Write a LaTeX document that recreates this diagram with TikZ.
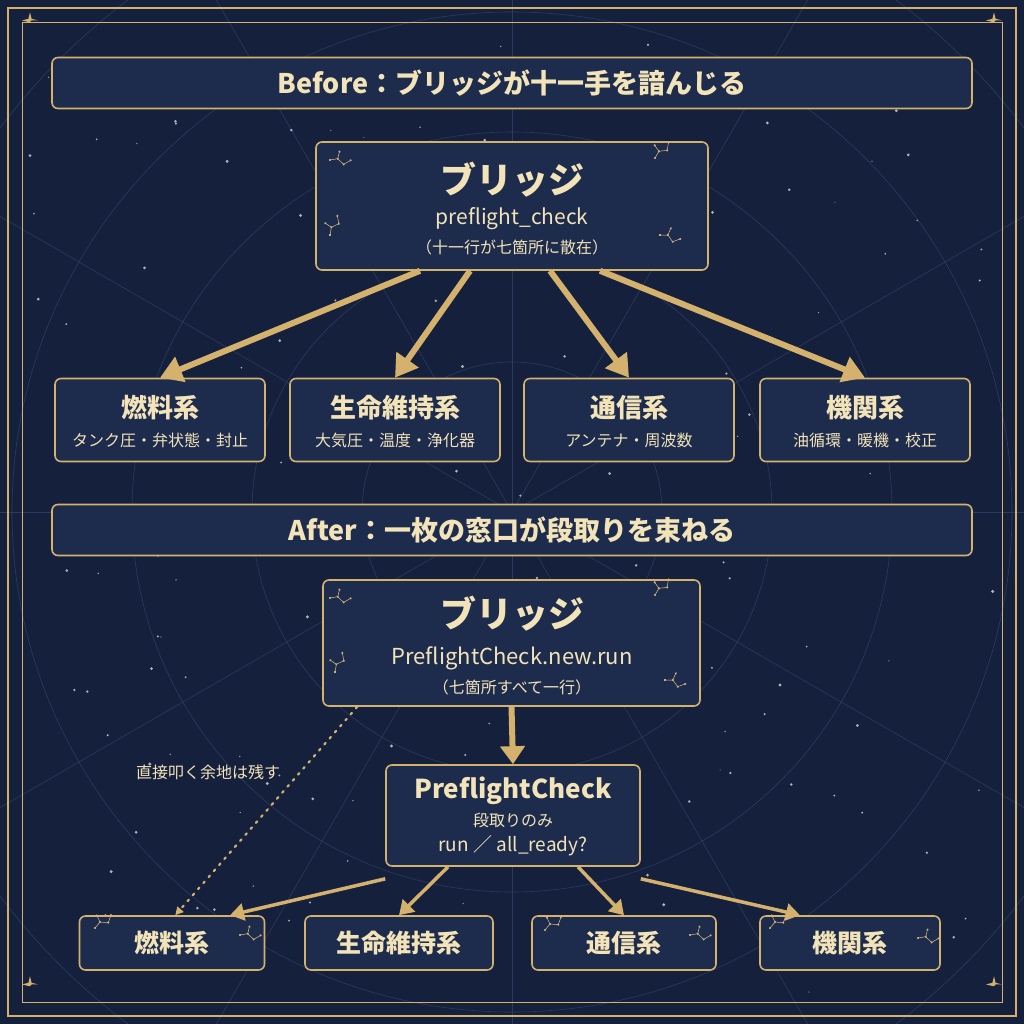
\documentclass[tikz,border=0pt]{standalone}
\usepackage{fontspec}
\setmainfont{Noto Sans CJK JP}
\usetikzlibrary{arrows.meta}
\definecolor{bg}{HTML}{15203D}
\definecolor{boxf}{HTML}{1D2B4D}
\definecolor{gold}{HTML}{D4B26E}
\definecolor{cream}{HTML}{F2E3B8}
\definecolor{grid}{HTML}{2B3A5E}
\tikzset{
  box/.style={draw=gold,line width=1.6pt,fill=boxf,rounded corners=6pt},
  txt/.style={text=cream,inner sep=0pt,anchor=center},
  big/.style={-{Triangle[length=22pt,width=26pt]},draw=gold,line width=6pt},
  mid/.style={-{Triangle[length=14pt,width=17pt]},draw=gold,line width=3.5pt},
  con/.style={draw=gold!80,line width=0.5pt},
}
\newcommand{\fs}[1]{\fontsize{#1}{#1}\selectfont}
\newcommand{\sparkle}[3]{\fill[gold] (#1,#2) -- ++(#3*0.2,-#3*0.2) -- ++(#3*0.8,-#3*0.0) -- ++(-#3*0.8,-#3*0.2) -- ++(-#3*0.2,-#3*0.8) -- ++(-#3*0.2,#3*0.8) -- ++(-#3*0.8,#3*0.2) -- ++(#3*0.8,#3*0.2) -- cycle;}
\newcommand{\constel}[3]{%
 \begin{scope}[shift={(#1,#2)},rotate=#3]
  \draw[con] (0,0)--(6,-5)--(14,-3)--(18,-10) (6,-5)--(4,-12);
  \foreach \p in {(0,0),(6,-5),(14,-3),(18,-10),(4,-12)} \fill[gold] \p circle (1.2pt);
 \end{scope}}
\begin{document}
\begin{tikzpicture}[x=1pt,y=-1pt]
\fill[bg] (0,0) rectangle (1024,1024);
\useasboundingbox (0,0) rectangle (1024,1024);
\begin{scope}
\clip (0,0) rectangle (1024,1024);
\foreach \r in {150,260,380,500,640} \draw[grid,line width=0.6pt] (512,512) circle (\r);
\foreach \a in {0,30,...,330} \draw[grid,line width=0.6pt] (512,512) -- ++(\a:700);
\pgfmathsetseed{7}
\foreach \i in {1,...,160}{
  \pgfmathsetmacro\xx{30+964*rnd}\pgfmathsetmacro\yy{30+964*rnd}\pgfmathsetmacro\ss{0.5+1.2*rnd}
  \fill[white!80!gold,opacity=0.7] (\xx,\yy) circle (\ss pt);}
\end{scope}
% frame
\draw[gold,line width=1.2pt] (8,8) rectangle (1016,1016);
\draw[gold,line width=0.8pt] (22,22) rectangle (1002,1002);
\sparkle{30}{22}{8}\sparkle{994}{22}{8}\sparkle{30}{986}{8}\sparkle{994}{986}{8}
% Before
\node[box,minimum width=920pt,minimum height=51pt] (t1) at (512,83) {};
\node[txt] (t1t) at (t1) {\fs{27}\bfseries Before：ブリッジが十一手を諳んじる};
\node[box,minimum width=392pt,minimum height=128pt] (b1) at (512,206) {};
\node[txt] (b1a) at (512,180) {\fs{36}\bfseries ブリッジ};
\node[txt] (b1b) at (512,219) {\fs{21}preflight\_check};
\node[txt] (b1c) at (512,247) {\fs{16}（十一行が七箇所に散在）};
\constel{330}{160}{-30}\constel{655}{158}{20}\constel{330}{235}{40}\constel{660}{235}{-40}
\foreach \n/\x/\t/\s in {f1/160/燃料系/タンク圧・弁状態・封止, f2/395/生命維持系/大気圧・温度・浄化器, f3/629/通信系/アンテナ・周波数, f4/865/機関系/油循環・暖機・校正}{
  \node[box,minimum width=210pt,minimum height=83pt] (\n) at (\x,420) {};
  \node[txt] at (\x,408) {\fs{26}\bfseries \t};
  \node[txt] at (\x,440) {\fs{16}\s};}
\draw[big] ([xshift=-92pt]b1.south) -- (f1.north);
\draw[big] ([xshift=-42pt]b1.south) -- (f2.north);
\draw[big] ([xshift=38pt]b1.south) -- (f3.north);
\draw[big] ([xshift=88pt]b1.south) -- (f4.north);
% After
\node[box,minimum width=920pt,minimum height=51pt] (t2) at (512,530) {};
\node[txt] at (t2) {\fs{27}\bfseries After：一枚の窓口が段取りを束ねる};
\node[box,minimum width=377pt,minimum height=126pt] (b2) at (511.5,643) {};
\node[txt] at (512,614) {\fs{36}\bfseries ブリッジ};
\node[txt] at (512,658) {\fs{22}PreflightCheck.new.run};
\node[txt] at (512,687) {\fs{16}（七箇所すべて一行）};
\constel{330}{598}{-30}\constel{655}{595}{20}\constel{335}{672}{40}\constel{665}{680}{-40}
\node[box,minimum width=254pt,minimum height=101pt] (pc) at (513,815.5) {};
\node[txt] at (513,791) {\fs{26}\bfseries PreflightCheck};
\node[txt] at (513,820) {\fs{16}段取りのみ};
\node[txt] at (513,846) {\fs{19}run ／ all\_ready?};
\draw[-{Triangle[length=18pt,width=24pt]},draw=gold,line width=6pt] (b2.south) -- (pc.north);
\foreach \n/\x/\w/\t in {g1/172/185/燃料系, g2/399/188/生命維持系, g3/624/184/通信系, g4/850/180/機関系}{
  \node[box,minimum width=\w pt,minimum height=54pt] (\n) at (\x,943) {};
  \node[txt] at (\x,943) {\fs{25}\bfseries \t};}
\constel{95}{928}{10}\constel{240}{935}{-30}\constel{545}{930}{10}\constel{690}{935}{-30}\constel{770}{928}{10}\constel{918}{938}{-30}
\draw[mid] ([yshift=-12pt]pc.south west) -- ([xshift=58pt]g1.north);
\draw[mid] ([xshift=-65pt]pc.south) -- (g2.north);
\draw[mid] ([xshift=65pt]pc.south) -- (g3.north);
\draw[mid] ([yshift=-12pt]pc.south east) -- ([xshift=-50pt]g4.north);
\draw[gold,line width=2.2pt,dash pattern=on 2pt off 6pt,line cap=round,-{Triangle[length=8pt,width=8pt]}] ([xshift=35pt]b2.south west) -- ([xshift=-90pt]g1.north east);
\node[txt] (lbl) at (208,772) {\fs{16}直接叩く余地は残す};
\end{tikzpicture}
\end{document}
